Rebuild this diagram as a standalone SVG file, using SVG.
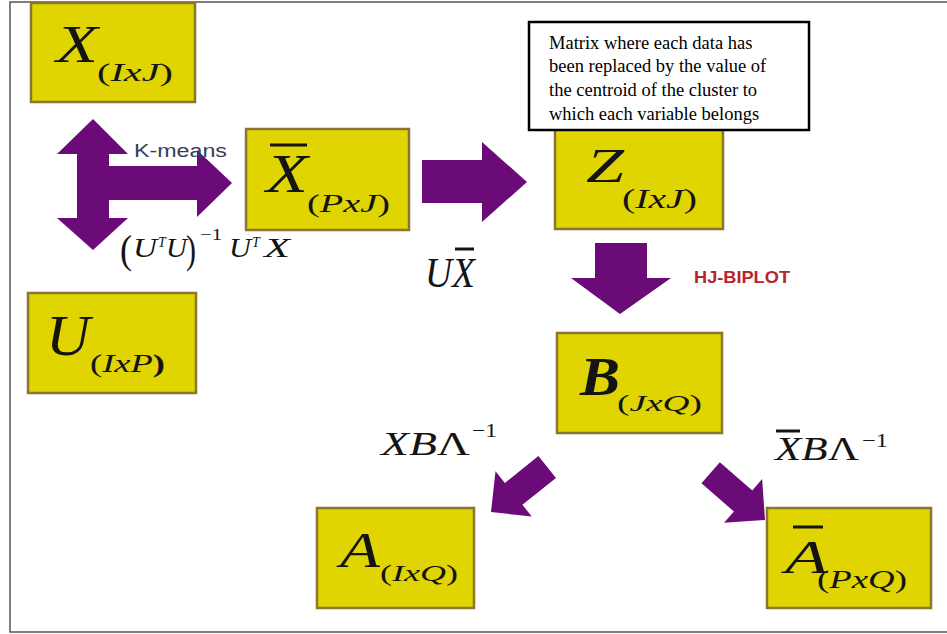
<svg xmlns="http://www.w3.org/2000/svg" width="947" height="634" viewBox="0 0 947 634">
<style>
.box{fill:#e0d500;stroke:#8a7631;stroke-width:2.5}
.arr{fill:#6b0b78}
.m{font-family:"Liberation Serif","Times New Roman",serif;font-style:italic;fill:#141414}
.up{font-style:normal}
.bar{stroke:#141414;stroke-width:3}
.lab{font-family:"Liberation Sans",Arial,sans-serif}
.note{font-family:"Liberation Serif","Times New Roman",serif;font-size:18.5px;fill:#000}
</style>
<defs>
<path id="diag" d="M0,0 L-29,-29 L-29,-14 L-72,-14 L-72,14 L-29,14 L-29,29 Z"/>
<clipPath id="noteclip"><rect x="529" y="22" width="280" height="102"/></clipPath>
</defs>
<rect x="0" y="0" width="947" height="634" fill="#fff"/>
<rect x="10" y="2" width="942" height="630" fill="none" stroke="#555" stroke-width="1.5"/>

<g id="connectors">
<path class="arr" d="M93,119 L128,154 L109,154 L109,166 L197,166 L197,150 L232,183 L197,217 L197,200 L109,200 L109,218 L128,218 L93,250 L57,218 L77,218 L77,154 L57,154 Z"/>
<path class="arr" d="M422,160 L482,160 L482,142 L527,182 L482,222 L482,203 L422,203 Z"/>
<path class="arr" d="M595,243 L647,243 L647,278 L671,278 L620,314 L571,278 L595,278 Z"/>
<use href="#diag" class="arr" transform="translate(491,512) rotate(141.3)"/>
<use href="#diag" class="arr" transform="translate(765,520) rotate(41)"/>
<text class="lab" x="134" y="157" font-size="18" fill="#34405a" textLength="93" lengthAdjust="spacingAndGlyphs">K-means</text>
<text class="lab" x="694" y="283" font-size="17" font-weight="bold" fill="#b5252c" textLength="96" lengthAdjust="spacingAndGlyphs">HJ-BIPLOT</text>
<g id="label-ls">
<text class="m up" x="120" y="263" font-size="40" textLength="12" lengthAdjust="spacingAndGlyphs">(</text>
<text class="m" x="133" y="257" font-size="28" textLength="24" lengthAdjust="spacingAndGlyphs">U</text>
<text class="m" x="158" y="247" font-size="14">T</text>
<text class="m" x="166" y="257" font-size="28" textLength="21" lengthAdjust="spacingAndGlyphs">U</text>
<text class="m up" x="186" y="263" font-size="40" textLength="10" lengthAdjust="spacingAndGlyphs">)</text>
<text class="m up" x="200" y="240" font-size="17" textLength="22" lengthAdjust="spacingAndGlyphs">−1</text>
<text class="m" x="229" y="257" font-size="28" textLength="22" lengthAdjust="spacingAndGlyphs">U</text>
<text class="m" x="252" y="247" font-size="14">T</text>
<text class="m" x="264" y="257" font-size="28" textLength="26" lengthAdjust="spacingAndGlyphs">X</text>
</g>
<g id="label-ux">
<text class="m" x="425" y="287" font-size="42" textLength="50" lengthAdjust="spacingAndGlyphs">UX</text>
<line class="bar" x1="455" y1="249" x2="474" y2="249" stroke-width="2.5"/>
</g>
<g id="label-xbl">
<text class="m" x="381" y="455" font-size="33" textLength="89" lengthAdjust="spacingAndGlyphs">XB<tspan class="up">Λ</tspan></text>
<text class="m up" x="472" y="437" font-size="19" textLength="25" lengthAdjust="spacingAndGlyphs">−1</text>
</g>
<g id="label-xbarbl">
<text class="m" x="775" y="460" font-size="33" textLength="84" lengthAdjust="spacingAndGlyphs">XB<tspan class="up">Λ</tspan></text>
<line class="bar" x1="776" y1="431" x2="800" y2="431" stroke-width="2.5"/>
<text class="m up" x="862" y="447" font-size="19" textLength="26" lengthAdjust="spacingAndGlyphs">−1</text>
</g>
</g>

<g id="node-X">
<rect class="box" x="31" y="3" width="164" height="99"/>
<text class="m" x="56" y="62" font-size="52" textLength="42" lengthAdjust="spacingAndGlyphs">X</text>
<text class="m" x="97" y="81" font-size="26" textLength="76" lengthAdjust="spacingAndGlyphs"><tspan class="up">(</tspan>IxJ<tspan class="up">)</tspan></text>
</g>

<g id="node-Xbar">
<rect class="box" x="246" y="129" width="163" height="101"/>
<line class="bar" x1="270" y1="145" x2="307" y2="145"/>
<text class="m" x="266" y="192" font-size="55" textLength="42" lengthAdjust="spacingAndGlyphs">X</text>
<text class="m" x="307" y="212" font-size="26" textLength="83" lengthAdjust="spacingAndGlyphs"><tspan class="up">(</tspan>PxJ<tspan class="up">)</tspan></text>
</g>

<g id="node-U">
<rect class="box" x="28" y="293" width="168" height="100"/>
<text class="m" x="46" y="355" font-size="58" textLength="44" lengthAdjust="spacingAndGlyphs">U</text>
<text class="m" x="90" y="372" font-size="26" textLength="75" lengthAdjust="spacingAndGlyphs"><tspan class="up">(</tspan>IxP<tspan class="up" font-weight="bold">)</tspan></text>
</g>

<g id="node-Z">
<rect class="box" x="555" y="120" width="168" height="109"/>
<text class="m" x="586" y="182" font-size="48" textLength="38" lengthAdjust="spacingAndGlyphs">Z</text>
<text class="m" x="622" y="208" font-size="27" textLength="75" lengthAdjust="spacingAndGlyphs"><tspan class="up">(</tspan>IxJ<tspan class="up">)</tspan></text>
</g>

<g id="node-note">
<rect x="529" y="22" width="280" height="108" fill="#fff" stroke="#000" stroke-width="2.5"/>
<g clip-path="url(#noteclip)">
<text class="note" x="549" y="49">Matrix where each data has</text>
<text class="note" x="549" y="72">been replaced by the value of</text>
<text class="note" x="549" y="96">the centroid of the cluster to</text>
<text class="note" x="549" y="120">which each variable belongs</text>
</g>
</g>

<g id="node-B">
<rect class="box" x="557" y="333" width="165" height="100"/>
<text class="m" x="580" y="395" font-size="54" font-weight="bold" textLength="40" lengthAdjust="spacingAndGlyphs">B</text>
<text class="m" x="617" y="411" font-size="24" textLength="85" lengthAdjust="spacingAndGlyphs"><tspan class="up">(</tspan>JxQ<tspan class="up">)</tspan></text>
</g>

<g id="node-A">
<rect class="box" x="317" y="508" width="157" height="100"/>
<text class="m" x="340" y="567" font-size="50" textLength="40" lengthAdjust="spacingAndGlyphs">A</text>
<text class="m" x="380" y="581" font-size="24" textLength="78" lengthAdjust="spacingAndGlyphs"><tspan class="up">(</tspan>IxQ<tspan class="up">)</tspan></text>
</g>

<g id="node-Abar">
<rect class="box" x="767" y="508" width="164" height="100"/>
<line class="bar" x1="793" y1="527" x2="823" y2="527"/>
<text class="m" x="785" y="573" font-size="46" textLength="43" lengthAdjust="spacingAndGlyphs">A</text>
<text class="m" x="817" y="588" font-size="26" textLength="90" lengthAdjust="spacingAndGlyphs"><tspan class="up">(</tspan>PxQ<tspan class="up">)</tspan></text>
</g>
</svg>
